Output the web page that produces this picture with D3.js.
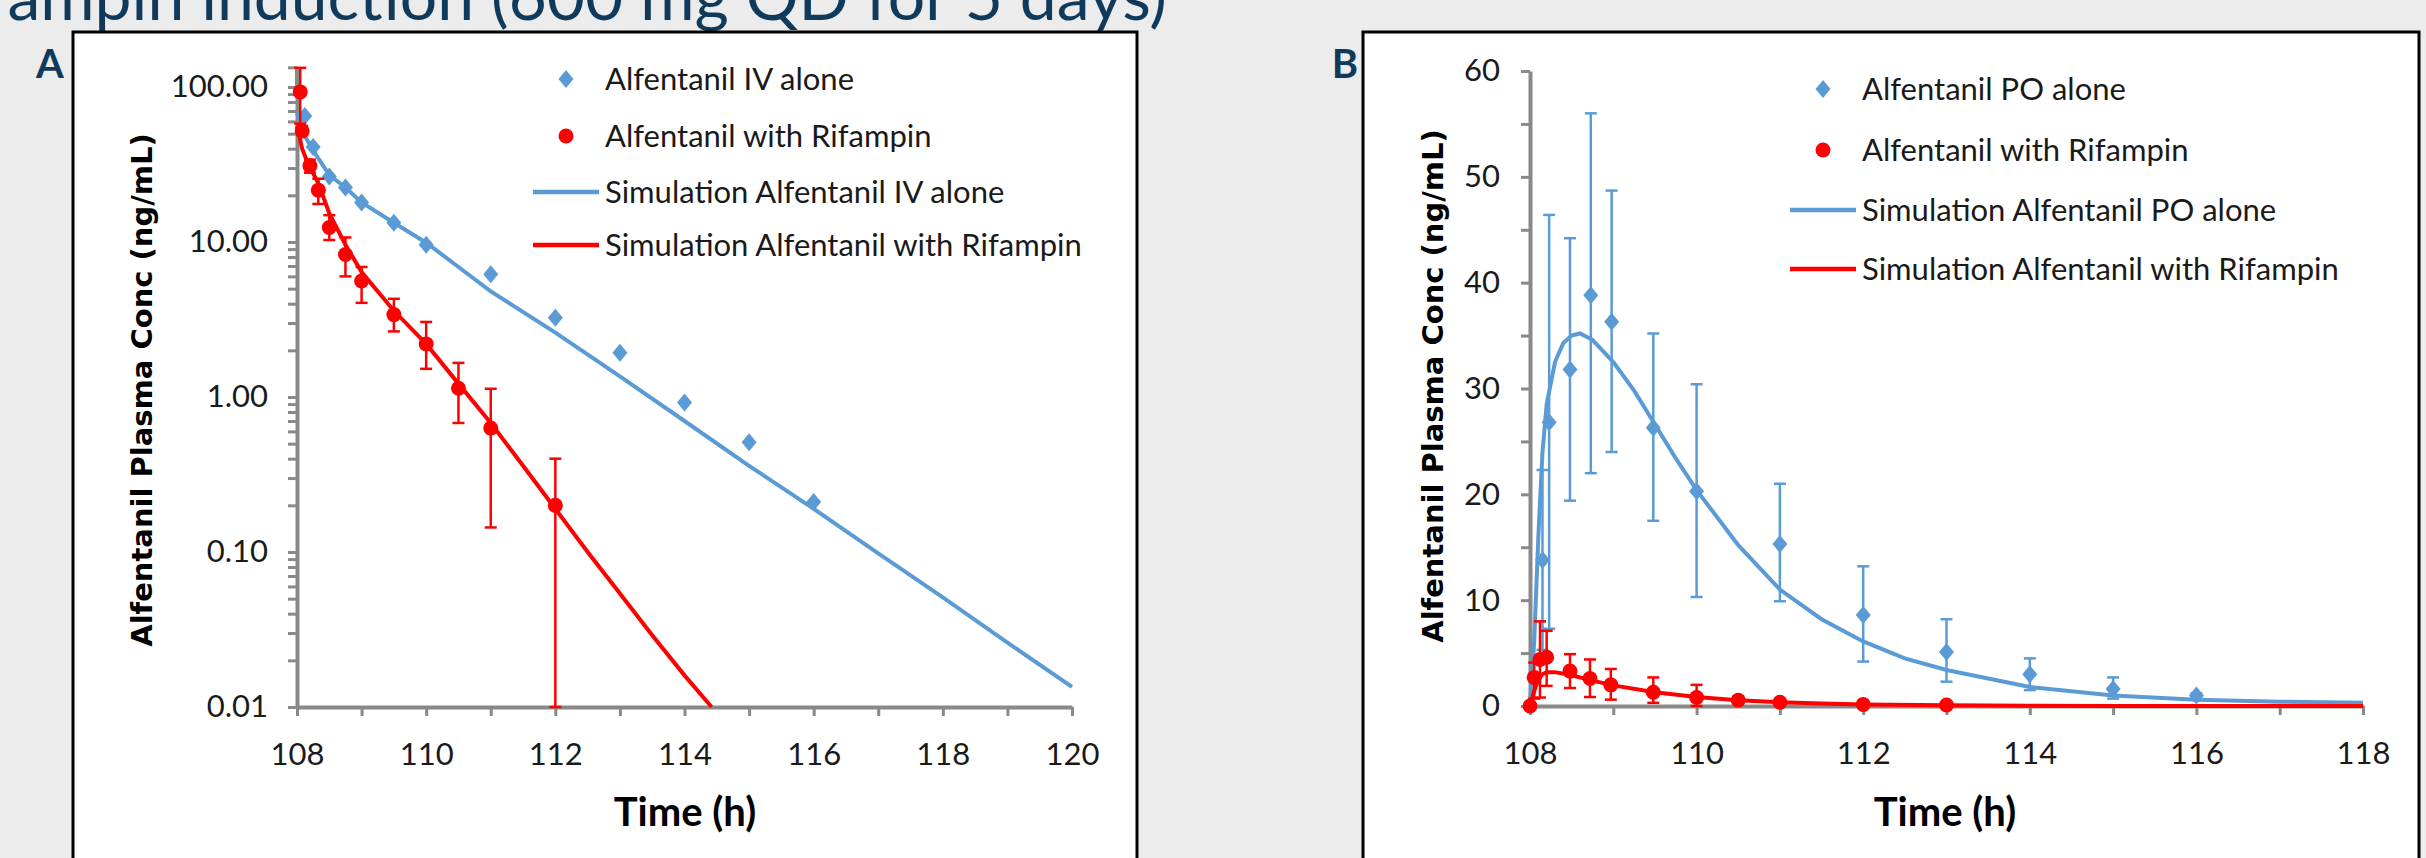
<!DOCTYPE html>
<html lang="en">
<head>
<meta charset="UTF-8" />
<title>Alfentanil – rifampin induction</title>
<script src="https://d3js.org/d3.v7.min.js"></script>
<style>
  body { margin: 0; background: #ececec; }
  svg { display: block; }
  .tick text { font-family: Lato, sans-serif; font-size: 31px; fill: #1a1a1a; }
  .axis-title { font-family: Lato, sans-serif; font-weight: 700; font-size: 40px; fill: #000; }
  .y-title { font-family: "DejaVu Sans", sans-serif; font-weight: 700; font-size: 29px; fill: #000; }
  .legend text { font-family: Lato, sans-serif; font-size: 31px; fill: #1a1a1a; }
  .panel-tag { font-family: Lato, sans-serif; font-weight: 700; font-size: 40px; fill: #0f3a5c; }
  .title { font-family: Lato, sans-serif; font-size: 66px; fill: #0f3a5c; }
</style>
</head>
<body>
<svg id="chart" width="2426" height="858"></svg>
<script>
// ---------- panel A : IV alfentanil (log scale) ----------
const ivObsTime = [108.12, 108.25, 108.5, 108.75, 109, 109.5, 110, 111, 112, 113, 114, 115, 116];
const ivObsConc = [65, 41, 26.5, 22.5, 18, 13.3, 9.6, 6.2, 3.25, 1.93, 0.92, 0.51, 0.21];

const ivRifTime = [108.05, 108.08, 108.2, 108.33, 108.5, 108.75, 109, 109.5, 110, 110.5, 111, 112];
const ivRifConc = [93, 52, 31, 21.6, 12.4, 8.3, 5.6, 3.4, 2.2, 1.14, 0.63, 0.20];
const ivRifHi   = [133, 56, 34, 25.6, 14.9, 10.7, 6.9, 4.3, 3.05, 1.66, 1.13, 0.40];
const ivRifLo   = [58, 49, 28, 17.6, 10.3, 6.0, 4.05, 2.65, 1.52, 0.68, 0.144, 0.01];

const ivSimTime = [108, 108.1, 108.25, 108.5, 108.75, 109, 109.5, 110, 110.5, 111, 112, 113, 114, 115, 116, 117, 118, 119, 120];
const ivSimConc = [68, 50, 39, 27, 22.5, 18, 13.3, 9.9, 6.9, 4.8, 2.6, 1.36, 0.70, 0.36, 0.19, 0.098, 0.051, 0.026, 0.0135];

const ivRifSimTime = [108, 108.08, 108.17, 108.33, 108.5, 108.75, 109, 109.5, 110, 110.5, 111, 111.5, 112, 112.5, 113, 113.5, 114, 114.42];
const ivRifSimConc = [56, 40, 32, 24, 15.3, 9.6, 6.4, 3.6, 2.2, 1.22, 0.68, 0.36, 0.19, 0.10, 0.054, 0.029, 0.016, 0.01];

const logTickLabels = [0.01, 0.1, 1, 10, 100];

// ---------- panel B : oral alfentanil (linear scale) ----------
const poObsTime = [108, 108.15, 108.23, 108.48, 108.73, 108.98, 109.48, 110, 111, 112, 113, 114, 115, 116];
const poObsConc = [0, 13.8, 26.8, 31.8, 38.8, 36.3, 26.3, 20.3, 15.3, 8.6, 5.1, 3.0, 1.6, 1.0];
const poObsLo   = [0, 5.3, 7.3, 19.4, 22.0, 24.0, 17.5, 10.3, 9.9, 4.2, 2.3, 1.5, 0.7, 0.8];
const poObsHi   = [0, 22.3, 46.4, 44.2, 56.0, 48.7, 35.2, 30.4, 21.0, 13.2, 8.2, 4.5, 2.7, 1.2];

const poRifTime = [108, 108.05, 108.12, 108.2, 108.48, 108.72, 108.97, 109.48, 110, 110.5, 111, 112, 113];
const poRifConc = [0, 2.7, 4.4, 4.6, 3.3, 2.6, 2.0, 1.3, 0.8, 0.55, 0.35, 0.15, 0.1];
const poRifLo   = [0, 0.7, 0.8, 1.9, 1.7, 0.85, 0.6, 0.3, 0, 0.3, 0.35, 0.15, 0.1];
const poRifHi   = [0, 4.1, 8.0, 7.1, 4.9, 4.4, 3.5, 2.7, 2.0, 0.9, 0.35, 0.15, 0.1];

const poSimTime = [108, 108.05, 108.1, 108.15, 108.2, 108.3, 108.4, 108.5, 108.6, 108.75, 109, 109.25, 109.5, 109.75, 110, 110.5, 111, 111.5, 112, 112.5, 113, 114, 115, 116, 117, 118];
const poSimConc = [0, 6, 16, 24, 28.5, 32.5, 34.3, 35, 35.2, 34.6, 32.5, 29.8, 26.6, 23.4, 20.4, 15.2, 11.0, 8.2, 6.1, 4.5, 3.4, 1.8, 1.0, 0.6, 0.4, 0.3];

const poRifSimTime = [108, 108.05, 108.1, 108.15, 108.2, 108.3, 108.5, 108.75, 109, 109.5, 110, 110.5, 111, 111.5, 112, 113, 114, 115, 116, 117, 118];
const poRifSimConc = [0, 1.4, 2.5, 3.0, 3.2, 3.2, 2.9, 2.4, 1.95, 1.3, 0.85, 0.55, 0.36, 0.23, 0.15, 0.06, 0.025, 0.01, 0.005, 0.002, 0.001];

const legendA = ["Alfentanil IV alone", "Alfentanil with Rifampin", "Simulation Alfentanil IV alone", "Simulation Alfentanil with Rifampin"];
const legendB = ["Alfentanil PO alone", "Alfentanil with Rifampin", "Simulation Alfentanil PO alone", "Simulation Alfentanil with Rifampin"];

const BLUE = "#5b9bd5", RED = "#ff0000", AXIS = "#898989";

const svg = d3.select("#chart");
svg.append("rect").attr("width", 2426).attr("height", 858).attr("fill", "#ececec");

svg.append("text").attr("class", "title")
  .attr("x", 1167).attr("y", 20).attr("text-anchor", "end")
  .text("Rifampin induction (600 mg QD for 5 days)");

const zip = (t, v) => t.map((d, i) => [d, v[i]]);
const diamond = "M0,-9L7.5,0L0,9L-7.5,0Z";

function frame(x0, x1, tag, tagX) {
  svg.append("rect").attr("x", x0).attr("y", 32).attr("width", x1 - x0).attr("height", 900)
    .attr("fill", "#fff").attr("stroke", "#000").attr("stroke-width", 3);
  svg.append("text").attr("class", "panel-tag").attr("x", tagX).attr("y", 78)
    .attr("text-anchor", "middle").text(tag);
}

function styleAxis(g) {
  g.select(".domain").attr("stroke", AXIS).attr("stroke-width", 4);
  g.selectAll(".tick line").attr("stroke", AXIS).attr("stroke-width", 3);
  g.attr("font-size", null).attr("font-family", null);
}

function legend(items, x, ys) {
  const lg = svg.append("g").attr("class", "legend");
  items.forEach((label, i) => {
    const y = ys[i];
    const color = i % 2 === 0 ? BLUE : RED;
    if (i === 0) lg.append("path").attr("d", diamond).attr("fill", BLUE).attr("transform", `translate(${x - 39},${y})`);
    if (i === 1) lg.append("circle").attr("cx", x - 39).attr("cy", y).attr("r", 7.5).attr("fill", RED);
    if (i >= 2) lg.append("line").attr("x1", x - 72).attr("x2", x - 6).attr("y1", y).attr("y2", y)
      .attr("stroke", color).attr("stroke-width", 4.5);
    lg.append("text").attr("x", x).attr("y", y).attr("dy", "0.36em").text(label);
  });
}

function errorBars(g, t, lo, hi, x, y, color) {
  const eb = g.append("g").attr("stroke", color).attr("stroke-width", 2.5);
  t.forEach((d, i) => {
    if (hi[i] === lo[i]) return;
    const cx = x(d);
    eb.append("line").attr("x1", cx).attr("x2", cx).attr("y1", y(lo[i])).attr("y2", y(hi[i]));
    eb.append("line").attr("x1", cx - 6).attr("x2", cx + 6).attr("y1", y(hi[i])).attr("y2", y(hi[i]));
    eb.append("line").attr("x1", cx - 6).attr("x2", cx + 6).attr("y1", y(lo[i])).attr("y2", y(lo[i]));
  });
}

// ================= Panel A =================
frame(73, 1137, "A", 50);
const xA = d3.scaleLinear().domain([108, 120]).range([297, 1072]);
const yA = d3.scaleLog().domain([0.01, 100]).range([707, 87]);
const gA = svg.append("g");

const minorLog = [];
[0.01, 0.1, 1, 10].forEach(dec => { for (let k = 1; k <= 9; k++) minorLog.push(+(dec * k).toPrecision(3)); });
minorLog.push(100);

// axis line continues a little above 100 (to the top of the plot area)
gA.append("line").attr("x1", xA(108)).attr("x2", xA(108)).attr("y1", yA(100)).attr("y2", yA(133))
  .attr("stroke", AXIS).attr("stroke-width", 4);
gA.append("line").attr("x1", xA(108) - 9).attr("x2", xA(108)).attr("y1", yA(133)).attr("y2", yA(133))
  .attr("stroke", AXIS).attr("stroke-width", 3);

gA.append("g").attr("transform", `translate(${xA(108)},0)`)
  .call(d3.axisLeft(yA).tickValues(minorLog).tickSize(9).tickSizeOuter(0).tickPadding(20)
    .tickFormat(d => logTickLabels.includes(d) ? d3.format(".2f")(d) : ""))
  .call(styleAxis);

gA.append("g").attr("transform", `translate(0,${yA(0.01)})`)
  .call(d3.axisBottom(xA).tickValues(d3.range(108, 121)).tickSize(9).tickSizeOuter(0).tickPadding(27)
    .tickFormat(d => d % 2 === 0 ? d : ""))
  .call(styleAxis);

const lineA = d3.line().x(d => xA(d[0])).y(d => yA(d[1]));
gA.append("path").datum(zip(ivSimTime, ivSimConc)).attr("d", lineA)
  .attr("fill", "none").attr("stroke", BLUE).attr("stroke-width", 4);
gA.append("path").datum(zip(ivRifSimTime, ivRifSimConc)).attr("d", lineA)
  .attr("fill", "none").attr("stroke", RED).attr("stroke-width", 4);

gA.append("g").selectAll("path").data(zip(ivObsTime, ivObsConc)).join("path")
  .attr("d", diamond).attr("fill", BLUE)
  .attr("transform", d => `translate(${xA(d[0])},${yA(d[1])})`);

errorBars(gA, ivRifTime, ivRifLo, ivRifHi, xA, yA, RED);
gA.append("g").selectAll("circle").data(zip(ivRifTime, ivRifConc)).join("circle")
  .attr("cx", d => xA(d[0])).attr("cy", d => yA(d[1])).attr("r", 7.5).attr("fill", RED);

svg.append("text").attr("class", "axis-title").attr("x", 685).attr("y", 826)
  .attr("text-anchor", "middle").text("Time (h)");
svg.append("text").attr("class", "y-title")
  .attr("transform", "translate(142,390) rotate(-90)")
  .attr("text-anchor", "middle").attr("dy", "0.35em")
  .text("Alfentanil Plasma Conc (ng/mL)");

legend(legendA, 605, [79, 136, 192, 245]);

// ================= Panel B =================
frame(1363, 2419, "B", 1345);
const xB = d3.scaleLinear().domain([108, 118]).range([1530, 2363]);
const yB = d3.scaleLinear().domain([0, 60]).range([706, 71]);
const gB = svg.append("g");

gB.append("g").attr("transform", `translate(${xB(108)},0)`)
  .call(d3.axisLeft(yB).tickValues(d3.range(0, 61, 5)).tickSize(9).tickSizeOuter(0).tickPadding(21)
    .tickFormat(d => d % 10 === 0 ? d : ""))
  .call(styleAxis);

gB.append("g").attr("transform", `translate(0,${yB(0)})`)
  .call(d3.axisBottom(xB).tickValues(d3.range(108, 119)).tickSize(9).tickSizeOuter(0).tickPadding(27)
    .tickFormat(d => d % 2 === 0 ? d : ""))
  .call(styleAxis);

const lineB = d3.line().x(d => xB(d[0])).y(d => yB(d[1]));
gB.append("path").datum(zip(poSimTime, poSimConc)).attr("d", lineB)
  .attr("fill", "none").attr("stroke", BLUE).attr("stroke-width", 4);
gB.append("path").datum(zip(poRifSimTime, poRifSimConc)).attr("d", lineB)
  .attr("fill", "none").attr("stroke", RED).attr("stroke-width", 4);

errorBars(gB, poObsTime, poObsLo, poObsHi, xB, yB, BLUE);
gB.append("g").selectAll("path").data(zip(poObsTime, poObsConc)).join("path")
  .attr("d", diamond).attr("fill", BLUE)
  .attr("transform", d => `translate(${xB(d[0])},${yB(d[1])})`);

errorBars(gB, poRifTime, poRifLo, poRifHi, xB, yB, RED);
gB.append("g").selectAll("circle").data(zip(poRifTime, poRifConc)).join("circle")
  .attr("cx", d => xB(d[0])).attr("cy", d => yB(d[1])).attr("r", 7.5).attr("fill", RED);

svg.append("text").attr("class", "axis-title").attr("x", 1945).attr("y", 826)
  .attr("text-anchor", "middle").text("Time (h)");
svg.append("text").attr("class", "y-title")
  .attr("transform", "translate(1433,386) rotate(-90)")
  .attr("text-anchor", "middle").attr("dy", "0.35em")
  .text("Alfentanil Plasma Conc (ng/mL)");

legend(legendB, 1862, [89, 150, 210, 269]);
</script>
</body>
</html>
